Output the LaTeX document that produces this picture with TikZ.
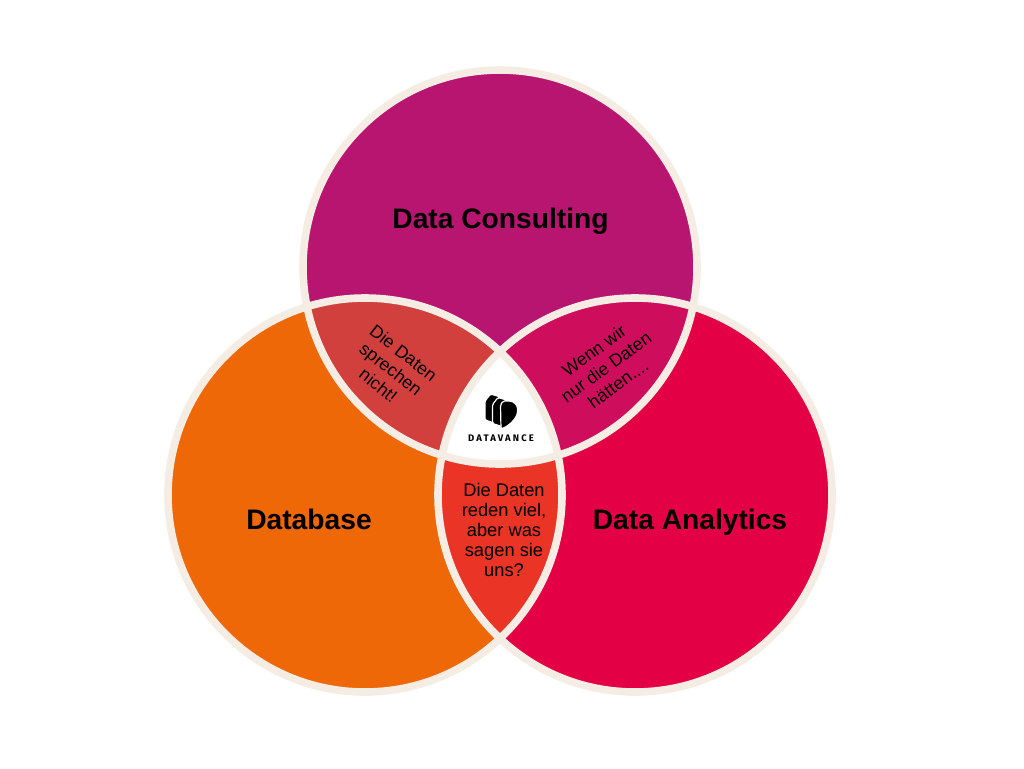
\documentclass[tikz,border=0pt]{standalone}
\usepackage{fontspec}
\setmainfont{Liberation Sans}
\newfontfamily\logofont[LetterSpace=22]{Fira Sans}
\usetikzlibrary{positioning}
\definecolor{ringcol}{HTML}{F5EDE4}
\definecolor{consultcol}{HTML}{B71570}
\definecolor{basecol}{HTML}{EE6807}
\definecolor{analyticscol}{HTML}{E30044}
\definecolor{baseconsult}{HTML}{D2403D}
\definecolor{consultanalytics}{HTML}{CE0E5C}
\definecolor{baseanalytics}{HTML}{E93426}
\tikzset{
  venn_ring/.style={circle, draw=ringcol, line width=7.6pt, minimum size=394pt, inner sep=0pt},
  venn_title/.style={font=\bfseries\fontsize{28.2}{33}\selectfont, text=black},
  venn_text/.style={font=\fontsize{18.3}{20.2}\selectfont, align=center, text=black},
  venn_turned/.style={venn_text, font=\fontsize{17.8}{20.4}\selectfont},
  logo_text/.style={font=\logofont\bfseries\fontsize{9.5}{11}\selectfont, text=black, inner sep=0pt},
  logo_part/.style={fill=black, draw=white, line width=1.2pt, rounded corners=1.5pt}
}
\newcommand{\consultpath}{(500,267) circle[radius=197]}
\newcommand{\basepath}{(365,495) circle[radius=197]}
\newcommand{\analyticspath}{(635,495) circle[radius=197]}
\begin{document}
\begin{tikzpicture}[x=1pt,y=-1pt]
\useasboundingbox (0,0) rectangle (1024,768);
% circle fills
\fill[consultcol] \consultpath;
\fill[basecol] \basepath;
\fill[analyticscol] \analyticspath;
% overlaps
\begin{scope}
  \clip \consultpath;
  \fill[baseconsult] \basepath;
\end{scope}
\begin{scope}
  \clip \consultpath;
  \fill[consultanalytics] \analyticspath;
\end{scope}
\begin{scope}
  \clip \basepath;
  \fill[baseanalytics] \analyticspath;
\end{scope}
\begin{scope}
  \clip \consultpath;
  \clip \basepath;
  \fill[white] \analyticspath;
\end{scope}
% rings
\node (consulting) [venn_ring] at (500,267) {};
\node (database) [venn_ring] at (365,495) {};
\node (analytics) [venn_ring] at (635,495) {};
% labels
\node (consulting_lbl) [venn_title] at (500.5,221) {Data Consulting};
\node (database_lbl) [venn_title] at (309,519) {Database};
\node (analytics_lbl) [venn_title] at (690,522) {Data Analytics};
\node (base_consult_lbl) [venn_turned, rotate=-38] at (391,369) {Die Daten\\sprechen\\nicht!};
\node (consult_analytics_lbl) [venn_turned, rotate=36] at (606,367) {Wenn wir\\nur die Daten\\hätten....};
\node (base_analytics_lbl) [venn_text] at (504,530) {Die Daten\\reden viel,\\aber was\\sagen sie\\uns?};
% logo
\foreach \dx/\dy in {0/0, 7.5/3.5}
  \draw[logo_part, shift={(\dx,\dy)}] (485,401) -- (490.5,394) -- (499,396.5) -- (499,424.5) -- (485,420) -- cycle;
\draw[logo_part] (500.5,405) -- (503,401) -- (510,401) .. controls (514,402) and (517.5,405) .. (517.5,410) .. controls (517.5,418) and (509,426) .. (501,429) -- cycle;
\node (logo_lbl) [logo_text] at (501,438) {DATAVANCE};
\end{tikzpicture}
\end{document}
